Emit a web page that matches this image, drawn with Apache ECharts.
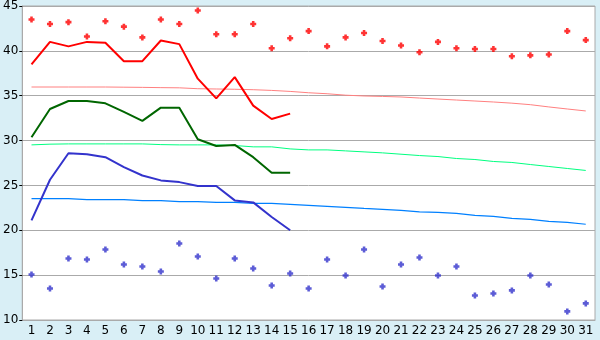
<!DOCTYPE html>
<html><head><meta charset="utf-8">
<script src="https://cdn.jsdelivr.net/npm/echarts@6/dist/echarts.min.js"></script>
<style>html,body{margin:0;padding:0;background:#D9EFF6;}#c{width:600px;height:340px;}</style>
</head><body><div id="c"></div>
<script>
var days = [];
for (var d = 1; d <= 31; d++) days.push(String(d));
var yTicks = [10, 15, 20, 25, 30, 35, 40, 45];

var maxPoints = [43.5,43.0,43.2,41.6,43.3,42.7,41.5,43.5,43.0,44.5,41.85,41.85,43.0,40.3,41.4,42.2,40.5,41.5,42.0,41.1,40.6,39.85,41.0,40.3,40.2,40.2,39.4,39.5,39.6,42.2,41.2];
var maxLine = [38.5,41.0,40.5,41.0,40.9,38.85,38.85,41.15,40.75,36.9,34.7,37.07,33.9,32.4,33.0];
var maxNormal = [35.97,35.97,35.97,35.97,35.97,35.95,35.93,35.9,35.88,35.78,35.75,35.72,35.67,35.59,35.48,35.33,35.22,35.06,34.97,34.92,34.86,34.74,34.63,34.52,34.41,34.3,34.17,34.0,33.75,33.52,33.3];
var meanLine = [30.37,33.52,34.41,34.41,34.15,33.2,32.2,33.67,33.67,30.15,29.4,29.52,28.15,26.41,26.41];
var meanNormal = [29.52,29.6,29.63,29.63,29.63,29.63,29.63,29.55,29.52,29.52,29.52,29.45,29.3,29.3,29.07,28.96,28.96,28.85,28.74,28.63,28.48,28.33,28.22,28.0,27.89,27.67,27.56,27.33,27.11,26.89,26.67];
var minLine = [21.11,25.63,28.59,28.48,28.15,27.04,26.11,25.56,25.37,24.93,24.93,23.33,23.11,21.48,20.0];
var minNormal = [23.52,23.52,23.52,23.41,23.41,23.41,23.3,23.3,23.19,23.19,23.11,23.11,23.0,23.0,22.89,22.78,22.67,22.56,22.44,22.33,22.22,22.05,22.0,21.89,21.67,21.56,21.33,21.22,21.0,20.89,20.67];
var minPoints = [15.07,13.52,16.85,16.74,17.85,16.19,15.96,15.41,18.52,17.08,14.63,16.85,15.74,13.85,15.19,13.52,16.74,14.96,17.85,13.74,16.19,16.96,14.96,15.96,12.74,12.96,13.3,14.96,13.96,10.96,11.85];

var plusPath = 'path://M2,0 L5,0 L5,2 L7,2 L7,5 L5,5 L5,7 L2,7 L2,5 L0,5 L0,2 L2,2 Z';
function lineS(data, color, width, z) {
  return {type:'line', data:data, symbol:'none', smooth:false, z:z,
    lineStyle:{color:color, width:width}, itemStyle:{color:color}, animation:false};
}
function ptS(data, color) {
  return {type:'scatter', data:data, symbol:plusPath, symbolSize:6, z:5,
    itemStyle:{color:color}, animation:false};
}
var chart = echarts.init(document.getElementById('c'), null, {renderer:'canvas'});
chart.setOption({
  backgroundColor:'#D9EFF6',
  animation:false,
  grid:{left:20, right:5, top:5, bottom:20, show:true, backgroundColor:'#fff', borderColor:'#aaa', borderWidth:1},
  xAxis:{type:'category', data:days, boundaryGap:true,
    axisLine:{lineStyle:{color:'#aaa'}},
    axisTick:{alignWithLabel:true, length:4, lineStyle:{color:'#000'}},
    axisLabel:{color:'#000', fontSize:12, fontFamily:'DejaVu Sans', margin:5, interval:0}},
  yAxis:{type:'value', min:yTicks[0], max:yTicks[yTicks.length-1], interval:5,
    axisLine:{show:true, lineStyle:{color:'#aaa'}},
    axisTick:{show:true, length:3, lineStyle:{color:'#000'}},
    axisLabel:{color:'#000', fontSize:12, fontFamily:'DejaVu Sans', margin:4},
    splitLine:{lineStyle:{color:'#aaa'}}},
  series:[
    lineS(maxNormal, '#FF8080', 1, 1),
    lineS(meanNormal, '#00FF80', 1, 1),
    lineS(minNormal, '#0080FF', 1.2, 1),
    lineS(maxLine, '#FF0000', 2, 3),
    lineS(meanLine, '#006600', 2, 3),
    lineS(minLine, '#3333CC', 2, 3),
    ptS(maxPoints, '#FF0000'),
    ptS(minPoints, '#3333CC')
  ]
});
</script></body></html>
